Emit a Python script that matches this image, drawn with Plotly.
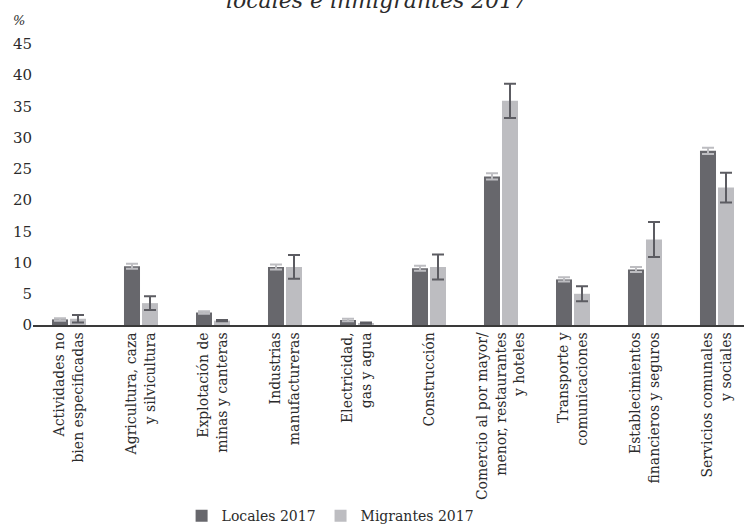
import plotly.graph_objects as go

categories = [
    "Actividades no<br>bien especificadas",
    "Agricultura, caza<br>y silvicultura",
    "Explotación de<br>minas y canteras",
    "Industrias<br>manufactureras",
    "Electricidad,<br>gas y agua",
    "Construcción",
    "Comercio al por mayor/<br>menor, restaurantes<br>y hoteles",
    "Transporte y<br>comunicaciones",
    "Establecimientos<br>financieros y seguros",
    "Servicios comunales<br>y sociales",
]

locales = [0.9, 9.4, 2.0, 9.3, 0.8, 9.1, 23.8, 7.3, 8.9, 27.9]
locales_err = [0.2, 0.4, 0.2, 0.4, 0.2, 0.4, 0.5, 0.35, 0.4, 0.5]

migrantes = [1.0, 3.5, 0.7, 9.3, 0.3, 9.3, 35.9, 5.0, 13.7, 22.0]
migrantes_err = [0.6, 1.1, 0.1, 1.9, 0.1, 2.0, 2.75, 1.2, 2.8, 2.4]

y_ticks = [0, 5, 10, 15, 20, 25, 30, 35, 40, 45]

DARK = "#67676c"
LIGHT = "#bdbdc1"
SERIF = "DejaVu Serif"

fig = go.Figure()
fig.add_trace(go.Bar(
    name="Locales 2017", x=categories, y=locales,
    marker=dict(color=DARK, line=dict(width=0)),
    error_y=dict(type="data", array=locales_err, color=LIGHT, thickness=2, width=6),
))
fig.add_trace(go.Bar(
    name="Migrantes 2017", x=categories, y=migrantes,
    marker=dict(color=LIGHT, line=dict(width=0)),
    error_y=dict(type="data", array=migrantes_err, color="#5c5c62", thickness=2, width=6),
))

fig.update_layout(
    width=744, height=528,
    margin=dict(l=33, r=0, t=44, b=203, pad=0, autoexpand=False),
    paper_bgcolor="white", plot_bgcolor="white",
    barmode="group", bargap=0.5, bargroupgap=0.11,
    font=dict(family=SERIF, size=14, color="#2b2b2b"),
    showlegend=True,
    legend=dict(
        orientation="h", x=0.209, xanchor="left", y=-0.68, yanchor="middle",
        font=dict(family=SERIF, size=14, color="#2b2b2b"),
        itemwidth=30, traceorder="normal", bgcolor="rgba(0,0,0,0)",
    ),
    xaxis=dict(
        type="category", range=[-0.5, 9.375], automargin=False,
        tickangle=-90, showgrid=False, ticks="",
        showline=True, linecolor="#3a3a3a", linewidth=1.5,
        tickfont=dict(family=SERIF, size=14, color="#2b2b2b"),
        fixedrange=True,
    ),
    yaxis=dict(
        range=[0, 45], tickvals=y_ticks, showgrid=False, zeroline=False,
        showline=False, ticks="", automargin=False,
        tickfont=dict(family=SERIF, size=15, color="#2b2b2b"),
        fixedrange=True,
    ),
    annotations=[
        dict(text="locales e inmigrantes 2017", xref="paper", yref="paper",
             x=0.483, y=1.155, xanchor="center", yanchor="middle", showarrow=False,
             font=dict(family=SERIF, size=22, style="italic", color="#2b2b2b")),
        dict(text="%", xref="paper", yref="paper",
             x=-0.0197, y=1.082, xanchor="center", yanchor="middle", showarrow=False,
             font=dict(family=SERIF, size=13, style="italic", color="#2b2b2b")),
    ],
)

fig.write_html("out.html")
